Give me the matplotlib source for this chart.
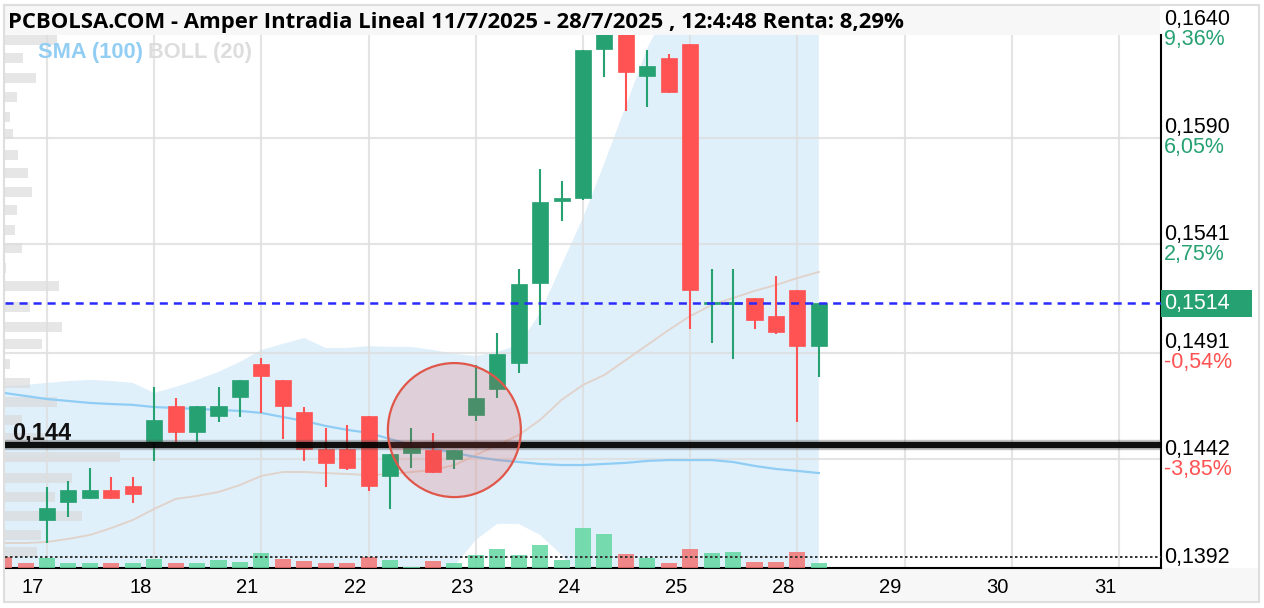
import matplotlib
matplotlib.use('Agg')
import matplotlib.pyplot as plt
import matplotlib.transforms as mtransforms
from matplotlib.patches import Rectangle, Ellipse
import numpy as np

plt.rcParams['lines.scale_dashes'] = False

# ---------------- data ----------------
title = "PCBOLSA.COM - Amper Intradia Lineal 11/7/2025 - 28/7/2025 , 12:4:48 Renta: 8,29%"
day_labels = ['17', '18', '21', '22', '23', '24', '25', '28', '29', '30', '31']
candles_per_day = 5

opens = [0.14141, 0.14224, 0.14242, 0.14279, 0.14298, 0.14500, 0.14666, 0.14546, 0.14620, 0.14708,
         0.14859, 0.14786, 0.14638, 0.14468, 0.14468, 0.14620, 0.14344, 0.14450, 0.14463, 0.14422,
         0.14625, 0.14744, 0.14864, 0.15232, 0.15610, 0.15624, 0.16310, 0.16440, 0.16186, 0.16269,
         0.16333, 0.15135, 0.15135, 0.15163, 0.15080, 0.15200, 0.14942]
highs = [0.14293, 0.14321, 0.14381, 0.14339, 0.14339, 0.14753, 0.14703, 0.14666, 0.14753, 0.14786,
         0.14887, 0.14786, 0.14661, 0.14565, 0.14579, 0.14620, 0.14445, 0.14565, 0.14542, 0.14463,
         0.14855, 0.15002, 0.15297, 0.15757, 0.15702, 0.16305, 0.16480, 0.16470, 0.16305, 0.16287,
         0.16333, 0.15297, 0.15297, 0.15163, 0.15265, 0.15200, 0.15140]
lows = [0.14035, 0.14155, 0.14238, 0.14238, 0.14219, 0.14413, 0.14500, 0.14500, 0.14592, 0.14615,
        0.14634, 0.14514, 0.14413, 0.14293, 0.14371, 0.14275, 0.14192, 0.14381, 0.14357, 0.14376,
        0.14597, 0.14703, 0.14818, 0.15039, 0.15518, 0.15614, 0.16181, 0.16025, 0.16043, 0.16107,
        0.15021, 0.14956, 0.14882, 0.15021, 0.14998, 0.14592, 0.14800]
closes = [0.14196, 0.14279, 0.14279, 0.14242, 0.14261, 0.14602, 0.14546, 0.14666, 0.14666, 0.14786,
          0.14804, 0.14666, 0.14468, 0.14404, 0.14381, 0.14298, 0.14445, 0.14482, 0.14362, 0.14463,
          0.14703, 0.14906, 0.15228, 0.15605, 0.15624, 0.16305, 0.16450, 0.16204, 0.16232, 0.16112,
          0.15200, 0.15145, 0.15145, 0.15062, 0.15007, 0.14942, 0.15140]

# indicator / volume series start two bars before the first visible candle
series_start = -2
volumes = [110, 50, 100, 50, 50, 50, 50, 90, 50, 50, 80, 60, 150, 90, 70, 50, 50, 110, 80, 10,
           70, 50, 130, 190, 130, 230, 80, 400, 340, 140, 100, 50, 190, 150, 160, 60, 60, 160, 50]
vol_up = [False, False, True, True, True, False, True, True, False, True, True, True, True, False,
          False, False, False, False, True, True, False, True, True, True, True, True, True, True,
          True, False, True, False, False, True, True, False, False, False, True]
sma100 = [0.14726, 0.14712, 0.14698, 0.14689, 0.14680, 0.14675, 0.14671, 0.14661, 0.14657, 0.14652,
          0.14648, 0.14643, 0.14634, 0.14615, 0.14597, 0.14574, 0.14556, 0.14542, 0.14514, 0.14486,
          0.14468, 0.14450, 0.14431, 0.14417, 0.14408, 0.14399, 0.14394, 0.14394, 0.14399, 0.14404,
          0.14413, 0.14417, 0.14417, 0.14417, 0.14408, 0.14390, 0.14376, 0.14367, 0.14357]
boll_upper = [0.14758, 0.14763, 0.14772, 0.14781, 0.14786, 0.14781, 0.14772, 0.14726, 0.14754, 0.14786,
              0.14823, 0.14869, 0.14924, 0.14952, 0.14979, 0.14933, 0.14933, 0.14942, 0.14938, 0.14938,
              0.14924, 0.14906, 0.14896, 0.14915, 0.14947, 0.15094, 0.15315, 0.15532, 0.15785, 0.16048,
              0.16315, 0.16500, 0.16600, 0.16660, 0.16700, 0.16720, 0.16730, 0.16740, 0.16740]
boll_mid = [0.14035, 0.14035, 0.14040, 0.14054, 0.14072, 0.14104, 0.14141, 0.14192, 0.14238, 0.14252,
            0.14270, 0.14302, 0.14344, 0.14362, 0.14362, 0.14357, 0.14353, 0.14348, 0.14353, 0.14362,
            0.14371, 0.14394, 0.14440, 0.14486, 0.14532, 0.14602, 0.14694, 0.14763, 0.14809, 0.14878,
            0.14947, 0.15016, 0.15080, 0.15131, 0.15163, 0.15196, 0.15223, 0.15255, 0.15283]
boll_lower = [0.13312, 0.13308, 0.13308, 0.13326, 0.13358, 0.13427, 0.13510, 0.13658, 0.13722, 0.13717,
              0.13717, 0.13736, 0.13763, 0.13773, 0.13745, 0.13782, 0.13773, 0.13754, 0.13768, 0.13786,
              0.13819, 0.13929, 0.14049, 0.14123, 0.14123, 0.14072, 0.13980, 0.13865, 0.13833, 0.13708,
              0.13579, 0.13450, 0.13350, 0.13300, 0.13280, 0.13270, 0.13280, 0.13300, 0.13330]

profile_prices = [0.16351, 0.16269, 0.16176, 0.16089, 0.15997, 0.15919, 0.15822, 0.15739, 0.15651, 0.15569,
                  0.15476, 0.15394, 0.15301, 0.15219, 0.15122, 0.15030, 0.14952, 0.14859, 0.14772, 0.14684,
                  0.14602, 0.14519, 0.14431, 0.14334, 0.14247, 0.14160, 0.14072, 0.13994]
profile_volumes = [52, 18, 31, 12, 5, 8, 13, 23, 27, 12, 10, 17, 1, 54, 25, 57, 37, 5, 25, 52,
                   17, 40, 115, 67, 50, 77, 36, 32]

price_ticks = [0.1640, 0.1590, 0.1541, 0.1491, 0.1442, 0.1392]
price_tick_labels = ['0,1640', '0,1590', '0,1541', '0,1491', '0,1442', '0,1392']
pct_labels = ['9,36%', '6,05%', '2,75%', '-0,54%', '-3,85%', '']
pct_positive = [True, True, True, False, False, True]

last_price = 0.1514
last_price_label = '0,1514'
support_level = 0.14487
support_label = '0,144'
low_marker_level = 0.13971
highlight_index = 19
highlight_price = 0.14555

# ---------------- style ----------------
W, H, DPI = 1264, 608, 100
GREEN = '#26a172'
RED = '#ff5252'
VGREEN = '#62d8a2'
VRED = '#f27474'
BAND = '#e0f0fb'
FONT = 'Liberation Sans'
LABEL_SIZE = 15.5

fig = plt.figure(figsize=(W / DPI, H / DPI), dpi=DPI)
fig.patch.set_facecolor('white')


def fx(px):
    return px / W


def fy(py):
    return 1 - py / H


# background bands of the widget (behind the axes)
fig.patches.append(Rectangle((fx(5), fy(602)), fx(1258) - fx(5), fy(568) - fy(602),
                             transform=fig.transFigure, fc='#f7f7f7', ec='none', zorder=-2))
fig.patches.append(Rectangle((fx(5), fy(35)), fx(1160) - fx(5), fy(5) - fy(35),
                             transform=fig.transFigure, fc='#f7f7f7', ec='none', zorder=-2))
fig.patches.append(Rectangle((fx(4), fy(602)), fx(1259) - fx(4), fy(5) - fy(602),
                             transform=fig.transFigure, fc='none', ec='#dedede', lw=1.5, zorder=10))

ax = fig.add_axes([fx(5), fy(568), fx(1161) - fx(5), fy(35) - fy(568)])
ax.set_facecolor('white')
YMIN, YMAX = 0.1392, 0.16374
XMIN, XMAX = -1.96, 51.96

n = len(opens)
xc = np.arange(n)
xs = np.arange(series_start, series_start + len(sma100))

# Bollinger band
ax.fill_between(xs, boll_lower, boll_upper, color=BAND, lw=0, zorder=1)

# volume profile on the left
prof_tr = mtransforms.blended_transform_factory(ax.transAxes, ax.transData)
pmax = max(profile_volumes)
for p, v in zip(profile_prices, profile_volumes):
    ax.add_patch(Rectangle((0, p - 0.00023), v / pmax * 0.0995, 0.00046, transform=prof_tr,
                           fc='#d6d6d6', ec='none', alpha=0.6, zorder=1.5))

# grid
for k in range(0, len(day_labels) * candles_per_day + 1, candles_per_day):
    ax.axvline(k, color='#dedede', lw=1.5, alpha=0.8, zorder=1.8)
for v in price_ticks[1:-1]:
    ax.axhline(v, color='#dedede', lw=1.5, alpha=0.8, zorder=1.8)

# indicators
ax.plot(xs, boll_mid, color='#e0d3cc', lw=1.4, zorder=2.2)
ax.plot(xs, sma100, color='#8fcdf5', lw=1.6, zorder=2.3)

# volume bars
vscale = (YMAX - YMIN) * 0.075 / max(volumes)
for x, v, up in zip(xs, volumes, vol_up):
    ax.add_patch(Rectangle((x - 0.375, YMIN), 0.75, v * vscale, fc=VGREEN if up else VRED,
                           ec='none', alpha=0.85, zorder=2.6))

# candles
for i in range(n):
    o, h, l, c = opens[i], highs[i], lows[i], closes[i]
    col = GREEN if c >= o else RED
    ax.vlines(xc[i], l, h, color=col, lw=1.5, zorder=3)
    ax.add_patch(Rectangle((xc[i] - 0.375, min(o, c)), 0.75, max(abs(c - o), 0.00004),
                           fc=col, ec=col, lw=0.5, zorder=3.1))

# support line
ax.axhline(support_level, color='#555555', lw=7.5, alpha=0.35, zorder=4)
ax.axhline(support_level, color='black', lw=4.5, alpha=0.92, zorder=4.1)
ax.annotate(support_label, xy=(0, support_level), xycoords=prof_tr, xytext=(5, 3.6),
            textcoords='offset points', fontsize=17, fontweight='bold', family=FONT,
            ha='left', va='baseline', color='#111111', zorder=4.2)

# last price dashed line and low dotted line
ax.axhline(last_price, color='#2a2aff', lw=1.8, dashes=(5.8, 4.3), zorder=4.5)
ax.axhline(low_marker_level, color='#333333', lw=1.4, dashes=(1.8, 1.8), zorder=4.5)

# highlight circle
ax.add_patch(Ellipse((highlight_index, highlight_price), 133 / 21.44, 134 / 21714,
                     fc=(0.85, 0.3, 0.3, 0.2), ec='#e0574a', lw=1.6, zorder=6))

ax.set_xlim(XMIN, XMAX)
ax.set_ylim(YMIN, YMAX)
ax.set_xticks([])
ax.set_yticks([])
for s in ['top', 'left']:
    ax.spines[s].set_visible(False)
for s in ['bottom', 'right']:
    ax.spines[s].set_color('black')
    ax.spines[s].set_linewidth(1.5)

# x labels
xlab_tr = mtransforms.blended_transform_factory(ax.transData, ax.transAxes)
for k, lab in enumerate(day_labels):
    ax.annotate(lab, xy=(k * candles_per_day - 0.65, 0), xycoords=xlab_tr, xytext=(0, -13.7),
                textcoords='offset points', ha='center', va='center', fontsize=14.5,
                family=FONT, color='black', annotation_clip=False)

# right price labels
for v, lab, pct, pos in zip(price_ticks, price_tick_labels, pct_labels, pct_positive):
    ax.annotate(lab, xy=(1, v), xycoords=prof_tr, xytext=(2.2, 7.2), textcoords='offset points',
                ha='left', va='center', fontsize=LABEL_SIZE, family=FONT, color='black',
                annotation_clip=False)
    if pct:
        ax.annotate(pct, xy=(1, v), xycoords=prof_tr, xytext=(2.2, -7.2), textcoords='offset points',
                    ha='left', va='center', fontsize=LABEL_SIZE, family=FONT,
                    color=GREEN if pos else RED, annotation_clip=False)

# last price box
ax.add_patch(Rectangle((1.0, last_price - 0.000622), 91 / 1156, 0.001244, transform=prof_tr,
                       fc=GREEN, ec='none', clip_on=False, zorder=7))
ax.annotate(last_price_label, xy=(1, last_price), xycoords=prof_tr, xytext=(2.2, 0),
            textcoords='offset points', ha='left', va='center', fontsize=LABEL_SIZE, family=FONT,
            color='white', annotation_clip=False, zorder=8)

# title & legend
fig.text(fx(8), fy(28), title, fontsize=15.9, fontweight='bold', family='Open Sans',
         ha='left', va='baseline', color='black')
fig.text(fx(38), fy(58), 'SMA (100)', fontsize=15.7, fontweight='bold', family=FONT,
         ha='left', va='baseline', color='#92cdf3')
fig.text(fx(148), fy(58), 'BOLL (20)', fontsize=15.7, fontweight='bold', family=FONT,
         ha='left', va='baseline', color='#dddddd')

fig.savefig('out.png', dpi=DPI, facecolor='white')
